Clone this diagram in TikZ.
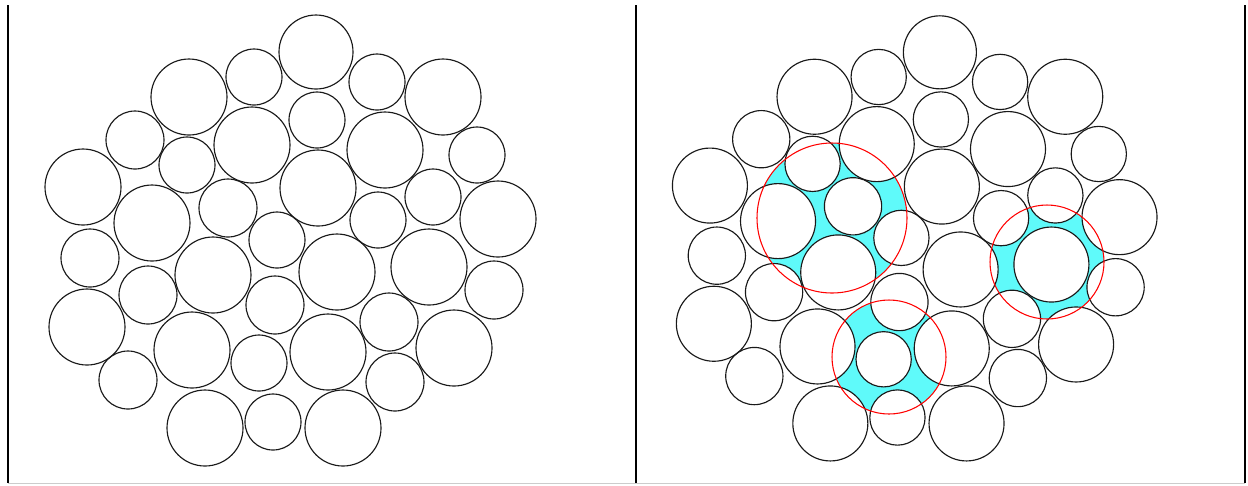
\documentclass[tikz,border=0pt]{standalone}
\usepackage{xcolor}
\usepackage{tikz}

\definecolor{porecyan}{RGB}{95,250,250}

% grain centres and radii (x/y/r, y downwards)
\def\grainlist{316/52/37, 254/77/28, 189/97/38, 377/82/28, 443/97/38,
  135/140/29, 187/165/28, 252/145/38, 317/120/28, 385/150/38, 477/155/28,
  83/187/38, 152/223/38, 228/208/29, 318/188/38, 433/197/28, 498/219/38,
  277/240/28, 378/220/28, 90/258/29, 213/275/38, 337/272/38, 429/267/38,
  148/295/29, 275/305/29, 494/290/29, 87/327/38, 192/350/38, 259/363/28,
  328/352/38, 389/322/29, 454/348/38, 128/380/29, 395/382/29, 205/428/38,
  273/422/28, 343/428/38}
\def\probelist{832/218/75, 1047/262/57, 889/357/57}

\begin{document}
\begin{tikzpicture}[
        x=0.02cm, y=-0.02cm,
        grain/.style={draw=black!90, line width=0.65pt},
        probe/.style={draw=red, line width=0.6pt},
        pore/.style={fill=porecyan},
        frame/.style={draw=black, line width=1.1pt}
    ]
        \useasboundingbox (0,0) rectangle (1248,485);

        % Frame
        \draw[frame] (8,5) -- (8,483);
        \draw[frame] (636,5) -- (636,483);
        \draw[frame] (1245,5) -- (1245,483);
        \draw[black!20, line width=0.6pt] (8,483.5) -- (1245,483.5);

        % Left packing
        \foreach \x/\y/\r in \grainlist
            \draw[grain] (\x,\y) circle[radius=\r];

        % Right packing with pore space
        \foreach \x/\y/\r in \probelist
            \fill[pore] (\x,\y) circle[radius=\r];
        \begin{scope}[shift={(628,1)}, scale=0.987]
            \foreach \x/\y/\r in \grainlist
                \fill[white] (\x,\y) circle[radius=\r];
            \foreach \x/\y/\r in \grainlist
                \draw[grain] (\x,\y) circle[radius=\r];
        \end{scope}
        \foreach \x/\y/\r in \probelist
            \draw[probe] (\x,\y) circle[radius=\r];

    \end{tikzpicture}
\end{document}
